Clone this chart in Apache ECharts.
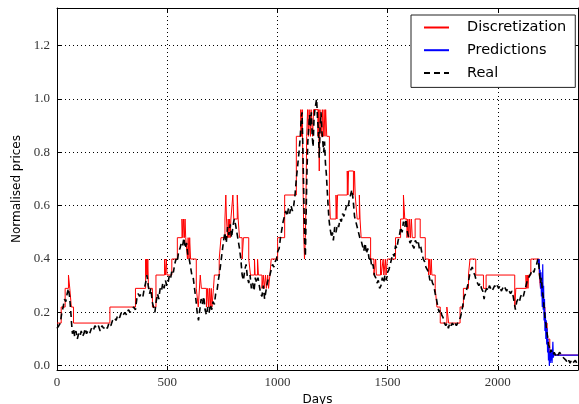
<!DOCTYPE html>
<html>
<head>
<meta charset="utf-8"/>
<style>
  html, body { margin: 0; padding: 0; background: #fff; }
  #main { width: 579px; height: 404px; }
</style>
<script src="https://cdn.jsdelivr.net/npm/echarts@6/dist/echarts.min.js"></script>
</head>
<body>
<div id="main"></div>
<script type="text/javascript">
// series names (legend order)
var seriesNames = ['Discretization', 'Predictions', 'Real'];
var xTicks = [0, 500, 1000, 1500, 2000];
var yTicks = [0.0, 0.2, 0.4, 0.6, 0.8, 1.0, 1.2];

// real normalised price, [day, value]
var realData = [
  [0,0.14],[8,0.15],[15,0.16],[22,0.20],[28,0.22],[34,0.25],[40,0.24],[46,0.27],[52,0.29],[57,0.26],
  [62,0.21],[66,0.16],[70,0.12],[75,0.14],[80,0.11],[86,0.13],[92,0.10],[98,0.12],[104,0.11],[110,0.13],
  [116,0.11],[122,0.12],[128,0.14],[134,0.12],[140,0.13],[148,0.12],[156,0.14],[164,0.13],[172,0.15],[180,0.14],
  [188,0.15],[196,0.13],[204,0.15],[212,0.14],[220,0.15],[228,0.14],[236,0.16],[244,0.15],[252,0.17],[260,0.18],
  [268,0.17],[276,0.19],[284,0.18],[292,0.20],[300,0.19],[308,0.20],[316,0.19],[324,0.21],[332,0.20],[340,0.21],
  [348,0.22],[356,0.21],[362,0.25],[368,0.27],[375,0.26],[382,0.27],[390,0.26],[396,0.29],[402,0.31],[408,0.34],
  [414,0.30],[420,0.27],[426,0.29],[432,0.24],[438,0.22],[444,0.20],[450,0.24],[456,0.27],[462,0.25],[468,0.29],
  [474,0.28],[480,0.31],[486,0.29],[492,0.32],[498,0.30],[504,0.31],[510,0.34],[516,0.33],[522,0.36],[528,0.35],
  [534,0.38],[540,0.40],[546,0.39],[552,0.43],[558,0.44],[564,0.46],[570,0.45],[576,0.48],[582,0.44],[588,0.46],
  [594,0.41],[600,0.40],[606,0.37],[612,0.34],[618,0.33],[624,0.29],[630,0.25],[636,0.20],[642,0.17],[648,0.21],
  [654,0.25],[660,0.23],[666,0.26],[672,0.21],[678,0.19],[684,0.22],[690,0.20],[696,0.23],[702,0.21],[708,0.24],
  [714,0.23],[720,0.27],[726,0.28],[732,0.32],[738,0.35],[744,0.39],[750,0.43],[756,0.47],[762,0.50],[768,0.46],
  [774,0.52],[780,0.49],[786,0.53],[792,0.48],[798,0.52],[804,0.55],[810,0.53],[816,0.50],[822,0.47],[828,0.44],
  [834,0.40],[840,0.34],[846,0.32],[852,0.36],[858,0.38],[864,0.33],[870,0.31],[876,0.34],[882,0.29],[888,0.31],
  [894,0.28],[900,0.33],[906,0.31],[912,0.33],[918,0.30],[924,0.27],[930,0.26],[936,0.30],[942,0.25],[948,0.28],
  [954,0.31],[960,0.33],[966,0.34],[972,0.36],[978,0.38],[984,0.37],[990,0.39],[996,0.40],[1002,0.43],[1008,0.44],
  [1014,0.48],[1020,0.51],[1026,0.54],[1032,0.56],[1038,0.58],[1044,0.56],[1050,0.59],[1056,0.57],[1062,0.60],[1068,0.58],
  [1074,0.60],[1080,0.64],[1086,0.70],[1092,0.75],[1098,0.80],[1104,0.86],[1108,0.93],[1112,0.95],[1116,0.80],[1120,0.62],
  [1124,0.46],[1127,0.41],[1130,0.55],[1134,0.72],[1138,0.84],[1142,0.89],[1146,0.94],[1150,0.90],[1154,0.95],[1158,0.86],
  [1162,0.82],[1166,0.92],[1170,0.96],[1174,0.98],[1178,1.00],[1182,0.93],[1186,0.88],[1190,0.78],[1194,0.90],[1198,0.95],
  [1202,0.88],[1206,0.84],[1210,0.80],[1214,0.84],[1218,0.76],[1222,0.72],[1226,0.66],[1230,0.60],[1234,0.55],[1238,0.52],
  [1242,0.50],[1246,0.48],[1250,0.50],[1254,0.47],[1260,0.52],[1266,0.50],[1272,0.53],[1278,0.52],[1284,0.55],[1290,0.54],
  [1296,0.57],[1302,0.56],[1308,0.58],[1314,0.60],[1320,0.59],[1326,0.62],[1332,0.64],[1338,0.66],[1344,0.62],[1350,0.56],
  [1356,0.54],[1362,0.52],[1368,0.50],[1374,0.48],[1380,0.47],[1386,0.45],[1392,0.43],[1398,0.46],[1404,0.42],[1410,0.44],
  [1416,0.40],[1422,0.41],[1428,0.37],[1434,0.38],[1440,0.34],[1446,0.33],[1452,0.31],[1458,0.32],[1464,0.29],[1470,0.30],
  [1476,0.33],[1482,0.31],[1488,0.34],[1494,0.32],[1500,0.35],[1506,0.36],[1512,0.38],[1518,0.40],[1524,0.42],[1530,0.41],
  [1536,0.45],[1542,0.44],[1548,0.47],[1554,0.49],[1560,0.52],[1566,0.50],[1572,0.54],[1578,0.52],[1584,0.55],[1590,0.50],
  [1596,0.48],[1602,0.46],[1608,0.47],[1614,0.45],[1620,0.44],[1626,0.47],[1632,0.46],[1638,0.47],[1644,0.44],[1650,0.45],
  [1656,0.42],[1662,0.40],[1668,0.39],[1674,0.37],[1680,0.36],[1686,0.35],[1692,0.32],[1698,0.33],[1704,0.31],[1710,0.30],
  [1716,0.27],[1722,0.25],[1728,0.22],[1734,0.20],[1740,0.21],[1746,0.19],[1752,0.18],[1758,0.16],[1764,0.15],[1770,0.16],
  [1776,0.14],[1782,0.16],[1788,0.15],[1794,0.16],[1800,0.15],[1806,0.16],[1812,0.15],[1818,0.16],[1824,0.16],[1830,0.18],
  [1836,0.20],[1842,0.23],[1848,0.26],[1854,0.27],[1860,0.29],[1866,0.31],[1872,0.34],[1878,0.36],[1884,0.37],[1890,0.35],
  [1896,0.34],[1902,0.32],[1908,0.31],[1914,0.30],[1920,0.31],[1926,0.29],[1932,0.28],[1938,0.25],[1944,0.28],[1950,0.29],
  [1956,0.28],[1962,0.30],[1968,0.29],[1974,0.28],[1980,0.29],[1986,0.30],[1992,0.29],[1998,0.30],[2004,0.29],[2010,0.30],
  [2016,0.28],[2022,0.29],[2028,0.30],[2034,0.29],[2040,0.28],[2046,0.29],[2052,0.28],[2058,0.27],[2064,0.28],[2070,0.26],
  [2076,0.23],[2080,0.21],[2086,0.24],[2092,0.25],[2098,0.24],[2104,0.26],[2110,0.27],[2116,0.26],[2122,0.28],[2128,0.30],
  [2134,0.32],[2140,0.33],[2146,0.34],[2152,0.35],[2158,0.36],[2164,0.35],[2170,0.37],[2176,0.38],[2182,0.40],[2186,0.38],
  [2190,0.34],[2194,0.31],[2198,0.33],[2202,0.28],[2206,0.26],[2210,0.22],[2214,0.18],[2218,0.16],[2222,0.13],[2226,0.11],
  [2230,0.08],[2234,0.07],[2238,0.05],[2242,0.06],[2246,0.05],[2250,0.04],[2256,0.05],[2262,0.04],[2268,0.05],[2274,0.04],
  [2280,0.05],[2286,0.05],[2292,0.04],[2298,0.03],[2304,0.03],[2310,0.02],[2316,0.01],[2322,0.02],[2328,0.01],[2334,0.02],
  [2340,0.01],[2346,0.01],[2352,0.02],[2358,0.01],[2364,0.01]
];

// discretized levels, [start day, level] (step line)
var discreteData = [
  [0,0.16],[19,0.22],[37,0.29],[52,0.34],[58,0.29],[65,0.22],[75,0.16],[240,0.22],[356,0.29],[402,0.40],
  [405,0.34],[407,0.40],[410,0.34],[412,0.40],[415,0.29],[433,0.22],[449,0.34],[488,0.40],[492,0.34],[496,0.40],
  [499,0.34],[521,0.40],[546,0.48],[567,0.55],[571,0.48],[574,0.55],[578,0.48],[581,0.55],[584,0.48],[592,0.40],
  [595,0.48],[599,0.40],[602,0.48],[606,0.40],[632,0.29],[641,0.22],[650,0.34],[655,0.29],[678,0.22],[684,0.29],
  [687,0.22],[692,0.29],[695,0.22],[700,0.29],[703,0.22],[710,0.29],[714,0.34],[736,0.40],[744,0.48],[762,0.55],
  [766,0.64],[769,0.55],[774,0.48],[777,0.55],[780,0.48],[783,0.55],[786,0.48],[789,0.55],[798,0.64],[802,0.55],
  [818,0.64],[822,0.55],[828,0.48],[840,0.40],[846,0.48],[870,0.40],[878,0.34],[896,0.40],[899,0.34],[910,0.40],
  [914,0.34],[930,0.29],[936,0.34],[940,0.29],[946,0.34],[950,0.29],[956,0.34],[960,0.29],[966,0.34],[972,0.40],
  [1001,0.48],[1033,0.64],[1086,0.86],[1106,0.96],[1110,0.86],[1113,0.96],[1117,0.64],[1120,0.48],[1123,0.40],[1127,0.48],
  [1130,0.64],[1133,0.86],[1137,0.96],[1141,0.86],[1144,0.96],[1150,0.86],[1153,0.96],[1160,0.86],[1164,0.96],[1184,0.86],
  [1187,0.96],[1190,0.73],[1193,0.96],[1200,0.86],[1204,0.96],[1208,0.86],[1212,0.96],[1216,0.86],[1219,0.96],[1224,0.86],
  [1236,0.64],[1240,0.55],[1266,0.64],[1270,0.55],[1273,0.64],[1317,0.73],[1320,0.64],[1323,0.73],[1345,0.64],[1350,0.73],
  [1353,0.64],[1362,0.55],[1372,0.64],[1375,0.55],[1380,0.48],[1423,0.40],[1438,0.34],[1446,0.40],[1449,0.34],[1468,0.40],
  [1471,0.34],[1480,0.40],[1483,0.34],[1490,0.40],[1493,0.34],[1499,0.40],[1536,0.48],[1559,0.55],[1572,0.64],[1578,0.55],
  [1588,0.48],[1592,0.55],[1596,0.48],[1600,0.55],[1604,0.48],[1608,0.55],[1612,0.48],[1625,0.55],[1648,0.48],[1671,0.40],
  [1686,0.34],[1690,0.40],[1694,0.34],[1698,0.40],[1701,0.34],[1716,0.29],[1724,0.22],[1739,0.16],[1769,0.22],[1777,0.16],
  [1829,0.22],[1844,0.29],[1867,0.34],[1874,0.40],[1900,0.34],[1935,0.29],[1947,0.34],[2077,0.22],[2082,0.29],[2128,0.34],
  [2131,0.29],[2134,0.34],[2137,0.29],[2140,0.34],[2150,0.40],[2188,0.34],[2194,0.29],[2204,0.22],[2214,0.16],[2224,0.10],
  [2236,0.04],[2364,0.04]
];

// model predictions, [day, value]
var predData = [
  [2183,0.40],[2186,0.37],[2188,0.40],[2190,0.33],[2192,0.36],[2194,0.29],[2196,0.35],[2198,0.26],[2200,0.31],[2202,0.22],
  [2204,0.38],[2206,0.21],[2208,0.30],[2210,0.17],[2212,0.25],[2214,0.13],[2216,0.20],[2218,0.10],[2220,0.17],[2222,0.08],
  [2224,0.14],[2226,0.05],[2228,0.10],[2230,0.02],[2232,0.07],[2234,0.00],[2236,0.05],[2238,0.01],[2240,0.06],[2242,0.02],
  [2244,0.05],[2246,0.01],[2248,0.04],[2250,0.09],[2252,0.03],[2256,0.05],[2260,0.04],[2364,0.04]
];

var myChart = echarts.init(document.getElementById('main'), null, {renderer: 'canvas'});

var tickFont = {fontFamily: 'Liberation Serif', fontSize: 13, color: '#333'};
var gridLine = {show: true, lineStyle: {color: '#000', width: 1, type: [1, 3]}};

function xAxisCfg(pos) {
  return {
    type: 'value', position: pos, min: 0, max: 2364, interval: 500,
    axisLine: {show: true, onZero: false, lineStyle: {color: '#000', width: 1}},
    axisTick: {show: true, inside: true, length: 4, lineStyle: {color: '#000'}},
    axisLabel: Object.assign({show: pos === 'bottom', margin: 6, showMaxLabel: false,
      formatter: function (v) { return xTicks.indexOf(v) >= 0 ? String(v) : ''; }}, tickFont),
    splitLine: pos === 'bottom' ? gridLine : {show: false}
  };
}
function yAxisCfg(pos) {
  return {
    type: 'value', position: pos, min: -0.016, max: 1.341, splitNumber: 7,
    axisLine: {show: true, onZero: false, lineStyle: {color: '#000', width: 1}},
    axisTick: {show: true, inside: true, length: 4, lineStyle: {color: '#000'}},
    axisLabel: Object.assign({show: pos === 'left', margin: 7, showMinLabel: false, showMaxLabel: false,
      formatter: function (v) {
        var r = Math.round(v * 10) / 10;
        return Math.abs(v - r) < 1e-6 ? r.toFixed(1) : '';
      }}, tickFont),
    splitLine: pos === 'left' ? gridLine : {show: false}
  };
}

var xa = [xAxisCfg('bottom'), xAxisCfg('top')];
xa[0].name = 'Days';
xa[0].nameLocation = 'middle';
xa[0].nameGap = 19;
xa[0].nameTextStyle = {fontFamily: 'DejaVu Sans', fontSize: 12, color: '#000'};
var ya = [yAxisCfg('left'), yAxisCfg('right')];
ya[0].name = 'Normalised prices';
ya[0].nameLocation = 'middle';
ya[0].nameGap = 28;
ya[0].nameTextStyle = {fontFamily: 'DejaVu Sans', fontSize: 12, color: '#000'};

var option = {
  animation: false,
  backgroundColor: '#fff',
  grid: {left: 57, right: 1, top: 8, bottom: 34, containLabel: false, outerBoundsMode: 'none'},
  legend: {
    orient: 'vertical', left: 411, top: 15,
    padding: [5, 9, 7, 12],
    itemWidth: 25, itemHeight: 14, itemGap: 7.7,
    itemStyle: {opacity: 0},
    borderColor: '#222', borderWidth: 1, backgroundColor: '#fff',
    textStyle: {fontFamily: 'DejaVu Sans', fontSize: 14.5, color: '#000', padding: [0, 0, 0, 13]},
    data: seriesNames
  },
  xAxis: xa,
  yAxis: ya,
  series: [
    {name: seriesNames[0], type: 'line', step: 'end', data: discreteData, showSymbol: false, symbol: 'none',
      lineStyle: {color: '#ff0000', width: 1}, itemStyle: {color: '#ff0000'}, z: 2},
    {name: seriesNames[1], type: 'line', data: predData, showSymbol: false, symbol: 'none',
      lineStyle: {color: '#0000ff', width: 1.2}, itemStyle: {color: '#0000ff'}, z: 3},
    {name: seriesNames[2], type: 'line', data: realData, showSymbol: false, symbol: 'none',
      lineStyle: {color: '#000', width: 1.6, type: [6, 4]}, itemStyle: {color: '#000'}, z: 4}
  ]
};
myChart.setOption(option);
</script>
</body>
</html>
